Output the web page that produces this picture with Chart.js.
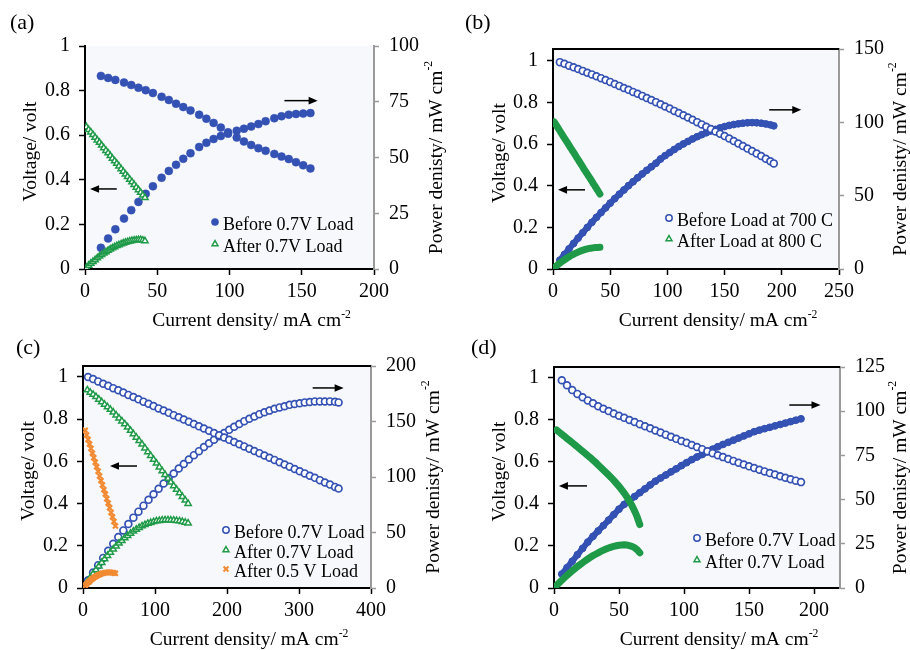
<!DOCTYPE html>
<html>
<head>
<meta charset="utf-8">
<script src="https://cdn.jsdelivr.net/npm/chart.js@4.4.1/dist/chart.umd.min.js"></script>
<style>
  html, body { margin: 0; padding: 0; background: #fff; overflow: hidden; }
  #wrap { position: relative; width: 910px; height: 650px; }
  canvas { position: absolute; }
</style>
</head>
<body>
<div id="wrap">
  <canvas id="pa" width="455" height="340" style="left:0;top:0"></canvas>
  <canvas id="pb" width="455" height="340" style="left:455px;top:0"></canvas>
  <canvas id="pc" width="455" height="325" style="left:0;top:325px"></canvas>
  <canvas id="pd" width="455" height="325" style="left:455px;top:325px"></canvas>
</div>
<script>
// tick labels
const voltTicks = [0, 0.2, 0.4, 0.6, 0.8, 1];
const aXTicks = [0, 50, 100, 150, 200];
const aPTicks = [0, 25, 50, 75, 100];
const bXTicks = [0, 50, 100, 150, 200, 250];
const bPTicks = [0, 50, 100, 150];
const cXTicks = [0, 100, 200, 300, 400];
const cPTicks = [0, 50, 100, 150, 200];
const dXTicks = [0, 50, 100, 150, 200];
const dPTicks = [0, 25, 50, 75, 100, 125];

// (a) current (mA cm-2), voltage (V), power (mW cm-2)
const aBeforeI = [11, 16, 21, 27, 32, 37, 42, 47, 53, 58, 63, 68, 73, 79, 84, 89, 94, 99, 105, 110, 115, 120, 125, 131, 136, 141, 146, 151, 156];
const aBeforeV = [0.866, 0.857, 0.848, 0.836, 0.825, 0.813, 0.802, 0.789, 0.772, 0.758, 0.741, 0.726, 0.711, 0.692, 0.674, 0.655, 0.634, 0.613, 0.590, 0.572, 0.556, 0.542, 0.530, 0.516, 0.504, 0.493, 0.479, 0.465, 0.451];
const aBeforeP = [9.5, 13.7, 17.8, 22.6, 26.4, 30.1, 33.7, 37.1, 40.9, 44.0, 46.7, 49.4, 51.9, 54.7, 56.6, 58.3, 59.6, 60.7, 62.0, 62.9, 63.9, 65.0, 66.3, 67.6, 68.5, 69.2, 69.5, 69.7, 69.9];
const aAfterI = [1, 2.5, 4, 5.5, 7, 8.5, 10, 11.5, 13, 14.5, 16, 17.5, 19, 20.5, 22, 23.5, 25, 26.5, 28, 29.5, 31, 32.5, 34, 35.5, 37, 38.5, 40, 41.5];
const aAfterV = [0.637, 0.625, 0.614, 0.602, 0.590, 0.578, 0.567, 0.555, 0.543, 0.531, 0.520, 0.508, 0.496, 0.484, 0.473, 0.461, 0.449, 0.437, 0.425, 0.414, 0.402, 0.390, 0.378, 0.366, 0.355, 0.343, 0.331, 0.320];
const aAfterP = [0.6, 1.6, 2.5, 3.3, 4.1, 4.9, 5.7, 6.4, 7.1, 7.7, 8.3, 8.9, 9.4, 9.9, 10.4, 10.8, 11.2, 11.6, 11.9, 12.2, 12.5, 12.7, 12.9, 13.0, 13.1, 13.1, 12.9, 12.6];

// (b)
const bBeforeI = [6, 10, 14, 18, 22, 26, 30, 34, 38, 42, 46, 50, 54, 58, 62, 66, 70, 74, 78, 82, 86, 90, 94, 98, 102, 106, 110, 114, 118, 122, 126, 130, 134, 138, 142, 146, 150, 154, 158, 162, 166, 170, 174, 178, 182, 186, 190, 193];
const bBeforeV = [0.993, 0.985, 0.976, 0.968, 0.960, 0.951, 0.942, 0.934, 0.925, 0.916, 0.907, 0.898, 0.888, 0.879, 0.869, 0.860, 0.850, 0.841, 0.831, 0.821, 0.811, 0.801, 0.791, 0.780, 0.770, 0.759, 0.749, 0.738, 0.727, 0.716, 0.705, 0.694, 0.683, 0.672, 0.660, 0.649, 0.638, 0.626, 0.614, 0.602, 0.590, 0.578, 0.566, 0.554, 0.542, 0.529, 0.517, 0.507];
const bBeforeP = [6.0, 9.9, 13.7, 17.4, 21.1, 24.7, 28.3, 31.8, 35.2, 38.5, 41.7, 44.9, 48.0, 51.0, 53.9, 56.8, 59.5, 62.2, 64.8, 67.3, 69.7, 72.1, 75.0, 77.3, 79.4, 81.5, 83.5, 85.3, 87.0, 88.7, 90.2, 91.6, 92.9, 94.1, 95.2, 96.2, 97.1, 97.9, 98.5, 99.0, 99.4, 99.7, 99.8, 99.7, 99.4, 98.9, 98.3, 97.6];
const bAfterI = [1, 3, 5, 7, 9, 11, 13, 15, 17, 19, 21, 23, 25, 27, 29, 31, 33, 35, 37, 39, 41];
const bAfterV = [0.706, 0.689, 0.672, 0.654, 0.637, 0.620, 0.603, 0.585, 0.568, 0.551, 0.533, 0.516, 0.499, 0.481, 0.464, 0.447, 0.430, 0.412, 0.395, 0.378, 0.360];
const bAfterP = [0.7, 2.1, 3.4, 4.6, 5.7, 6.8, 7.8, 8.8, 9.7, 10.5, 11.2, 11.9, 12.5, 13.0, 13.5, 13.9, 14.2, 14.4, 14.6, 14.7, 14.8];

// (c)
const cBeforeI = [7, 14, 21, 28, 35, 42, 49, 56, 63, 70, 77, 84, 91, 98, 105, 112, 119, 126, 133, 140, 147, 154, 161, 168, 175, 182, 189, 196, 203, 210, 217, 224, 231, 238, 245, 252, 259, 266, 273, 280, 287, 294, 301, 308, 315, 322, 329, 336, 343, 350, 355];
const cBeforeV = [1.000, 0.990, 0.979, 0.968, 0.958, 0.947, 0.937, 0.926, 0.915, 0.905, 0.894, 0.883, 0.873, 0.862, 0.851, 0.841, 0.830, 0.819, 0.809, 0.798, 0.788, 0.777, 0.766, 0.756, 0.745, 0.734, 0.724, 0.713, 0.702, 0.692, 0.681, 0.671, 0.660, 0.649, 0.639, 0.628, 0.617, 0.607, 0.596, 0.585, 0.575, 0.564, 0.553, 0.543, 0.532, 0.522, 0.511, 0.500, 0.490, 0.479, 0.471];
const cBeforeP = [7.0, 13.9, 20.6, 27.1, 33.5, 39.8, 45.9, 51.9, 57.6, 63.4, 68.8, 74.2, 79.4, 84.5, 89.4, 94.2, 98.8, 103.2, 107.6, 111.7, 115.8, 119.7, 123.3, 127.0, 130.4, 133.6, 136.8, 139.7, 142.5, 145.3, 147.8, 150.3, 152.5, 154.5, 156.6, 158.3, 159.8, 161.5, 162.7, 163.8, 165.0, 165.8, 166.5, 167.2, 167.6, 168.1, 168.1, 168.0, 168.1, 167.7, 167.2];
const cAfter07I = [6, 10, 14, 18, 22, 26, 30, 34, 38, 42, 46, 50, 54, 58, 62, 66, 70, 74, 78, 82, 86, 90, 94, 98, 102, 106, 110, 114, 118, 122, 126, 130, 134, 138, 142, 146];
const cAfter07V = [0.938, 0.927, 0.917, 0.906, 0.894, 0.882, 0.870, 0.858, 0.846, 0.833, 0.819, 0.805, 0.791, 0.777, 0.762, 0.746, 0.730, 0.714, 0.698, 0.681, 0.663, 0.645, 0.627, 0.609, 0.591, 0.573, 0.555, 0.537, 0.519, 0.501, 0.484, 0.467, 0.450, 0.433, 0.416, 0.400];
const cAfter07P = [5.6, 9.3, 12.8, 16.3, 19.7, 22.9, 26.1, 29.2, 32.1, 35.0, 37.7, 40.3, 42.7, 45.1, 47.2, 49.2, 51.1, 52.8, 54.4, 55.8, 57.0, 58.1, 58.9, 59.7, 60.3, 60.7, 61.1, 61.2, 61.2, 61.1, 61.0, 60.7, 60.3, 59.8, 59.1, 58.4];
const cAfter05I = [3, 5, 7, 9, 11, 13, 15, 17, 19, 21, 23, 25, 27, 29, 31, 33, 35, 37, 39, 41, 43, 45];
const cAfter05V = [0.747, 0.725, 0.704, 0.682, 0.661, 0.639, 0.617, 0.596, 0.574, 0.553, 0.531, 0.509, 0.488, 0.466, 0.445, 0.423, 0.402, 0.380, 0.358, 0.337, 0.315, 0.294];
const cAfter05P = [2.2, 3.6, 4.9, 6.1, 7.3, 8.3, 9.3, 10.1, 10.9, 11.6, 12.2, 12.7, 13.2, 13.5, 13.8, 14.0, 14.1, 14.1, 14.0, 13.8, 13.5, 13.2];

// (d)
const dBeforeI = [6, 10, 14, 18, 22, 26, 30, 34, 38, 42, 46, 50, 54, 58, 62, 66, 70, 74, 78, 82, 86, 90, 94, 98, 102, 106, 110, 114, 118, 122, 126, 130, 134, 138, 142, 146, 150, 154, 158, 162, 166, 170, 174, 178, 182, 186, 190];
const dBeforeV = [0.989, 0.965, 0.942, 0.924, 0.908, 0.893, 0.879, 0.865, 0.853, 0.842, 0.831, 0.820, 0.810, 0.800, 0.790, 0.780, 0.770, 0.760, 0.750, 0.740, 0.730, 0.720, 0.710, 0.700, 0.691, 0.681, 0.671, 0.661, 0.651, 0.642, 0.632, 0.623, 0.614, 0.605, 0.596, 0.588, 0.579, 0.571, 0.563, 0.555, 0.547, 0.540, 0.532, 0.525, 0.518, 0.511, 0.504];
const dBeforeP = [7.9, 11.5, 15.1, 18.8, 22.4, 26.0, 29.2, 32.3, 35.3, 38.4, 41.5, 44.6, 47.3, 49.5, 51.7, 53.9, 56.1, 58.3, 60.4, 62.2, 63.9, 65.7, 67.4, 69.2, 70.9, 72.6, 74.1, 75.5, 77.0, 78.5, 79.9, 81.2, 82.4, 83.6, 84.8, 86.0, 87.2, 88.4, 89.3, 90.1, 90.9, 91.7, 92.5, 93.3, 94.1, 94.9, 95.7];
const dAfterI = [2, 4, 6, 8, 10, 12, 14, 16, 18, 20, 22, 24, 26, 28, 30, 32, 34, 36, 38, 40, 42, 44, 46, 48, 50, 52, 54, 56, 58, 60, 62, 64, 66];
const dAfterV = [0.752, 0.742, 0.732, 0.722, 0.712, 0.702, 0.692, 0.682, 0.672, 0.661, 0.651, 0.641, 0.630, 0.620, 0.609, 0.598, 0.586, 0.574, 0.562, 0.550, 0.538, 0.525, 0.512, 0.498, 0.484, 0.468, 0.452, 0.434, 0.414, 0.392, 0.367, 0.338, 0.302];
const dAfterP = [1.5, 3.0, 4.4, 5.8, 7.1, 8.4, 9.7, 10.9, 12.1, 13.2, 14.3, 15.4, 16.4, 17.4, 18.3, 19.1, 19.9, 20.7, 21.4, 22.0, 22.6, 23.1, 23.6, 23.9, 24.2, 24.3, 24.4, 24.3, 24.0, 23.5, 22.8, 21.6, 19.9];

const FAMILY = "'Liberation Serif', 'Times New Roman', serif";
const BLUE = '#3451b4';
const GREEN = '#1f9a48';
const ORANGE = '#f28a32';
const AXIS_GREY = '#9a9a9a';

Chart.defaults.font.family = FAMILY;
Chart.defaults.font.size = 20;
Chart.defaults.color = '#000';

// marker styles
const dotBlue = { pointStyle: 'circle', pointRadius: 4, pointBackgroundColor: BLUE, pointBorderColor: BLUE, pointBorderWidth: 0.5, showLine: false };
const ringBlue = { pointStyle: 'circle', pointRadius: 3.4, pointBackgroundColor: '#fff', pointBorderColor: BLUE, pointBorderWidth: 1.7, showLine: false };
const solidBlue = { pointStyle: 'circle', pointRadius: 3.4, pointBackgroundColor: BLUE, pointBorderColor: BLUE, pointBorderWidth: 1, showLine: true, borderColor: BLUE, borderWidth: 6, borderCapStyle: 'round' };
const triGreen = { pointStyle: 'triangle', pointRadius: 3.6, pointBackgroundColor: '#fff', pointBorderColor: GREEN, pointBorderWidth: 1.5, showLine: false };
const bandGreen = { pointStyle: 'triangle', pointRadius: 3, pointBackgroundColor: GREEN, pointBorderColor: GREEN, pointBorderWidth: 1, showLine: true, borderColor: GREEN, borderWidth: 7, borderCapStyle: 'round' };
const crossOrange = { pointStyle: 'crossRot', pointRadius: 3.5, pointBackgroundColor: ORANGE, pointBorderColor: ORANGE, pointBorderWidth: 2.2, showLine: false };

function series(xs, ys, axis, style) {
  return Object.assign({ data: xs.map((x, i) => ({ x, y: ys[i] })), yAxisID: axis }, style);
}

function marker(ctx, st, x, y, r) {
  ctx.save();
  ctx.lineWidth = Math.min(st.pointBorderWidth, 1.5);
  ctx.strokeStyle = st.pointBorderColor;
  ctx.fillStyle = st.pointBackgroundColor;
  ctx.beginPath();
  if (st.pointStyle === 'circle') {
    ctx.arc(x, y, r, 0, Math.PI * 2);
    ctx.fill(); ctx.stroke();
  } else if (st.pointStyle === 'triangle') {
    ctx.moveTo(x, y - r);
    ctx.lineTo(x + r * 0.87, y + r * 0.5);
    ctx.lineTo(x - r * 0.87, y + r * 0.5);
    ctx.closePath();
    ctx.fill(); ctx.stroke();
  } else {
    ctx.lineWidth = 2;
    ctx.moveTo(x - r * 0.7, y - r * 0.7); ctx.lineTo(x + r * 0.7, y + r * 0.7);
    ctx.moveTo(x + r * 0.7, y - r * 0.7); ctx.lineTo(x - r * 0.7, y + r * 0.7);
    ctx.stroke();
  }
  ctx.restore();
}

function title(ctx, x, y, rot, text, sup, size, baseline) {
  ctx.save();
  ctx.translate(x, y);
  ctx.rotate(rot);
  ctx.fillStyle = '#000';
  ctx.textAlign = 'left';
  ctx.textBaseline = baseline;
  ctx.font = size + 'px ' + FAMILY;
  const w = ctx.measureText(text).width;
  const small = (size * 0.6).toFixed(1) + 'px ' + FAMILY;
  ctx.font = small;
  const ws = sup ? ctx.measureText(sup).width : 0;
  const x0 = -(w + ws) / 2;
  ctx.font = size + 'px ' + FAMILY;
  ctx.fillText(text, x0, 0);
  if (sup) {
    ctx.font = small;
    ctx.fillText(sup, x0 + w, -size * 0.42);
  }
  ctx.restore();
}

const deco = {
  id: 'deco',
  beforeDraw(chart) {
    const a = chart.chartArea, ctx = chart.ctx;
    ctx.save();
    ctx.fillStyle = '#f7f8fb';
    ctx.fillRect(a.left, a.top, a.right - a.left, a.bottom - a.top);
    ctx.restore();
  },
  afterDraw(chart, args, o) {
    const a = chart.chartArea, ctx = chart.ctx;
    const sx = chart.scales.x, sy = chart.scales.y;
    ctx.save();
    if (o.topBorder) {
      ctx.strokeStyle = '#000';
      ctx.lineWidth = 2;
      ctx.beginPath();
      ctx.moveTo(a.left - 1, a.top);
      ctx.lineTo(a.right, a.top);
      ctx.stroke();
    }
    // arrows
    ctx.strokeStyle = '#000';
    ctx.fillStyle = '#000';
    ctx.lineWidth = 1.5;
    o.arrows.forEach(([x0, x1, v]) => {
      const p0 = sx.getPixelForValue(x0), p1 = sx.getPixelForValue(x1);
      const py = sy.getPixelForValue(v);
      const dir = Math.sign(p1 - p0);
      ctx.beginPath();
      ctx.moveTo(p0, py);
      ctx.lineTo(p1 - dir * 7, py);
      ctx.stroke();
      ctx.beginPath();
      ctx.moveTo(p1, py);
      ctx.lineTo(p1 - dir * 9, py - 3.8);
      ctx.lineTo(p1 - dir * 9, py + 3.8);
      ctx.closePath();
      ctx.fill();
    });
    // legend
    ctx.font = '18px ' + FAMILY;
    ctx.textBaseline = 'middle';
    ctx.textAlign = 'left';
    o.legend.items.forEach((it, i) => {
      const y = o.legend.y[i];
      marker(ctx, it.style, o.legend.x, y, it.r);
      ctx.fillStyle = '#000';
      ctx.fillText(it.text, o.legend.x + 8, y + 3);
    });
    // panel label
    ctx.font = '22px ' + FAMILY;
    ctx.fillText(o.label, o.labelX, 23);
    ctx.restore();
    // axis titles
    const midY = (a.top + a.bottom) / 2;
    title(ctx, o.leftTitleX, midY - 6, -Math.PI / 2, 'Voltage/ volt', '', 19.5, 'middle');
    title(ctx, o.rightTitleX, midY, -Math.PI / 2, 'Power denisty/ mW cm', '-2', 19.5, 'middle');
    title(ctx, (a.left + a.right) / 2 + 22, a.bottom + 57, 0, 'Current density/ mA cm', '-2', 19.5, 'alphabetic');
  }
};

function panel(id, p) {
  const canvas = document.getElementById(id);
  const H = canvas.height, W = canvas.width;
  const g = p.area;
  return new Chart(canvas, {
    type: 'scatter',
    data: { datasets: p.datasets },
    options: {
      responsive: false,
      animation: false,
      events: [],
      layout: { padding: { top: g.top, left: 0, right: 0, bottom: 0 } },
      plugins: { legend: { display: false }, tooltip: { enabled: false }, deco: p.deco },
      scales: {
        x: {
          type: 'linear', position: 'bottom', min: 0, max: p.xMax,
          afterBuildTicks: s => { s.ticks = p.xTicks.map(v => ({ value: v })); },
          afterFit: s => { s.height = H - g.bottom; },
          ticks: { padding: 5, maxRotation: 0, autoSkip: false, callback: v => String(v) },
          grid: { drawOnChartArea: false, tickLength: 6, tickColor: '#000', tickWidth: 1.5 },
          border: { color: '#000', width: 2 }
        },
        y: {
          type: 'linear', position: 'left', min: 0, max: p.vMax,
          afterBuildTicks: s => { s.ticks = voltTicks.map(v => ({ value: v })); },
          afterFit: s => { s.width = g.left; },
          ticks: { padding: 9, autoSkip: false, callback: v => String(v) },
          grid: { drawOnChartArea: false, tickLength: 6, tickColor: '#000', tickWidth: 1.5 },
          border: { color: '#000', width: 2 }
        },
        y1: {
          type: 'linear', position: 'right', min: 0, max: p.pMax,
          afterBuildTicks: s => { s.ticks = p.pTicks.map(v => ({ value: v })); },
          afterFit: s => { s.width = W - g.right; },
          ticks: { padding: 10, autoSkip: false, callback: v => String(v) },
          grid: { drawOnChartArea: false, tickLength: 5, tickColor: AXIS_GREY, tickWidth: 1.5 },
          border: { color: AXIS_GREY, width: 2 }
        }
      }
    },
    plugins: [deco]
  });
}

panel('pa', {
  area: { left: 85, right: 374, top: 46, bottom: 269 },
  xMax: 200, vMax: 1, pMax: 100, xTicks: aXTicks, pTicks: aPTicks,
  datasets: [
    series(aAfterI, aAfterV, 'y', triGreen),
    series(aAfterI, aAfterP, 'y1', triGreen),
    series(aBeforeI, aBeforeV, 'y', dotBlue),
    series(aBeforeI, aBeforeP, 'y1', dotBlue)
  ],
  deco: {
    label: '(a)', labelX: 10, topBorder: false, leftTitleX: 31, rightTitleX: 437,
    arrows: [[138, 161, 0.755], [22, 3.5, 0.359]],
    legend: { x: 215, y: [222, 244], items: [
      { text: 'Before 0.7V Load', style: dotBlue, r: 3.6 },
      { text: 'After 0.7V Load', style: triGreen, r: 3.4 }
    ] }
  }
});

panel('pb', {
  area: { left: 98, right: 384, top: 49, bottom: 269 },
  xMax: 250, vMax: 1.056, pMax: 150, xTicks: bXTicks, pTicks: bPTicks,
  datasets: [
    series(bAfterI, bAfterV, 'y', bandGreen),
    series(bAfterI, bAfterP, 'y1', bandGreen),
    series(bBeforeI, bBeforeV, 'y', ringBlue),
    series(bBeforeI, bBeforeP, 'y1', solidBlue)
  ],
  deco: {
    label: '(b)', labelX: 10, topBorder: true, leftTitleX: 45, rightTitleX: 446,
    arrows: [[189, 217, 0.764], [28, 4.4, 0.38]],
    legend: { x: 214, y: [218, 239], items: [
      { text: 'Before Load at 700 C', style: ringBlue, r: 3.2 },
      { text: 'After Load at 800 C', style: triGreen, r: 3.4 }
    ] }
  }
});

panel('pc', {
  area: { left: 83, right: 371, top: 41, bottom: 263 },
  xMax: 400, vMax: 1.052, pMax: 200, xTicks: cXTicks, pTicks: cPTicks,
  datasets: [
    series(cAfter05I, cAfter05V, 'y', crossOrange),
    series(cAfter05I, cAfter05P, 'y1', crossOrange),
    series(cAfter07I, cAfter07V, 'y', triGreen),
    series(cAfter07I, cAfter07P, 'y1', triGreen),
    series(cBeforeI, cBeforeV, 'y', ringBlue),
    series(cBeforeI, cBeforeP, 'y1', ringBlue)
  ],
  deco: {
    label: '(c)', labelX: 16, topBorder: true, leftTitleX: 29, rightTitleX: 434,
    arrows: [[319, 362, 0.948], [75, 37.5, 0.578]],
    legend: { x: 226, y: [205, 225, 244], items: [
      { text: 'Before 0.7V Load', style: ringBlue, r: 3.2 },
      { text: 'After 0.7V Load', style: triGreen, r: 3.4 },
      { text: 'After 0.5 V Load', style: crossOrange, r: 3.5 }
    ] }
  }
});

panel('pd', {
  area: { left: 99, right: 385, top: 42, bottom: 263 },
  xMax: 220, vMax: 1.052, pMax: 125, xTicks: dXTicks, pTicks: dPTicks,
  datasets: [
    series(dAfterI, dAfterV, 'y', bandGreen),
    series(dAfterI, dAfterP, 'y1', bandGreen),
    series(dBeforeI, dBeforeV, 'y', ringBlue),
    series(dBeforeI, dBeforeP, 'y1', solidBlue)
  ],
  deco: {
    label: '(d)', labelX: 16, topBorder: true, leftTitleX: 45, rightTitleX: 446,
    arrows: [[181, 205, 0.871], [25.4, 3.8, 0.486]],
    legend: { x: 242, y: [213, 235], items: [
      { text: 'Before 0.7V Load', style: ringBlue, r: 3.2 },
      { text: 'After 0.7V Load', style: triGreen, r: 3.4 }
    ] }
  }
});
</script>
</body>
</html>
